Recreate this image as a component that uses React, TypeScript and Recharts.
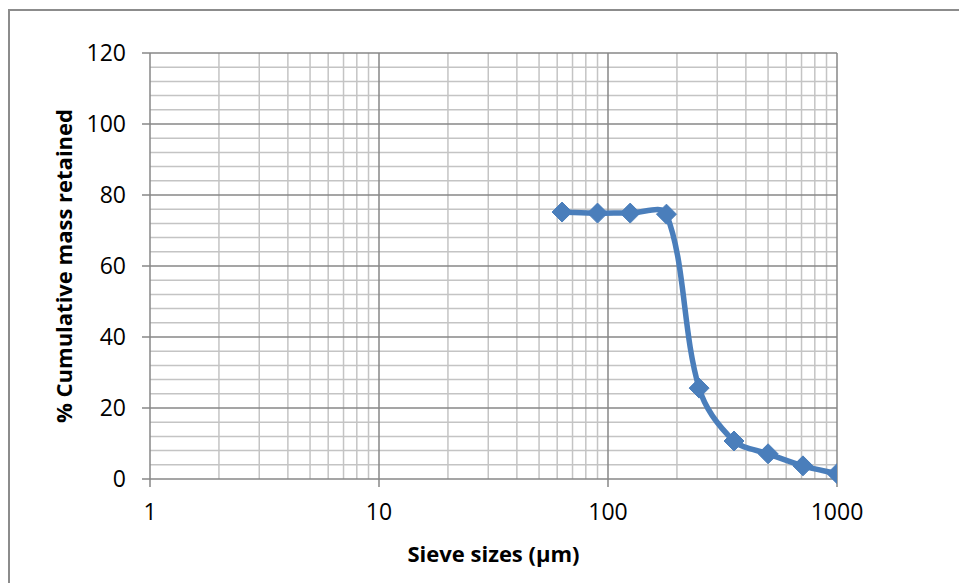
import React from 'react';
import { LineChart, Line, XAxis, YAxis, ReferenceLine } from 'recharts';

const sieveSizes = [63, 90, 125, 180, 250, 355, 500, 710, 1000];
const cumulativeRetained = [75.2, 74.9, 74.9, 74.6, 25.6, 10.7, 7.1, 3.7, 1.5];

const xTicks = [1, 10, 100, 1000];
const xMinor = [2, 3, 4, 5, 6, 7, 8, 9, 20, 30, 40, 50, 60, 70, 80, 90, 200, 300, 400, 500, 600, 700, 800, 900];
const yTicks = [0, 20, 40, 60, 80, 100, 120];
const yMinor = [4, 8, 12, 16, 24, 28, 32, 36, 44, 48, 52, 56, 64, 68, 72, 76, 84, 88, 92, 96, 104, 108, 112, 116];

const data = sieveSizes.map((s, i) => ({ size: s, retained: cumulativeRetained[i] }));

const FONT = '"Open Sans", sans-serif';
const BLUE = '#4a7ebb';
const MINOR = '#c4c4c4';
const MAJOR = '#878787';

// Excel-like smoothed line: Bezier with tangents scaled by neighbouring segment lengths
const excelCurve = (context: any) => {
  let pts: number[][] = [];
  return {
    areaStart() {},
    areaEnd() {},
    lineStart() { pts = []; },
    point(x: number, y: number) { pts.push([+x, +y]); },
    lineEnd() {
      const n = pts.length;
      if (!n) return;
      context.moveTo(pts[0][0], pts[0][1]);
      const d = (a: number[], b: number[]) => Math.hypot(b[0] - a[0], b[1] - a[1]);
      for (let i = 0; i < n - 1; i++) {
        const p0 = pts[Math.max(i - 1, 0)];
        const p1 = pts[i];
        const p2 = pts[i + 1];
        const p3 = pts[Math.min(i + 2, n - 1)];
        const d01 = d(p0, p1), d12 = d(p1, p2), d23 = d(p2, p3);
        const f1 = d01 + d12 > 0 ? d12 / (d01 + d12) / 3 : 0;
        const f2 = d12 + d23 > 0 ? d12 / (d12 + d23) / 3 : 0;
        const c1x = p1[0] + (p2[0] - p0[0]) * f1;
        const c1y = p1[1] + (p2[1] - p0[1]) * f1;
        const c2x = p2[0] - (p3[0] - p1[0]) * f2;
        const c2y = p2[1] - (p3[1] - p1[1]) * f2;
        context.bezierCurveTo(c1x, c1y, c2x, c2y, p2[0], p2[1]);
      }
    },
  };
};

const Diamond = (props: any) => {
  const { cx, cy } = props;
  if (cx == null || cy == null) return null;
  const r = 10;
  return (
    <polygon
      points={`${cx},${cy - r} ${cx + r},${cy} ${cx},${cy + r} ${cx - r},${cy}`}
      fill={BLUE}
      stroke={BLUE}
      strokeWidth={1}
    />
  );
};

const YTitle = (props: any) => {
  const { viewBox } = props;
  const cx = viewBox.x + 43;
  const cy = viewBox.y + viewBox.height / 2;
  return (
    <text
      x={cx}
      y={cy}
      transform={`rotate(-90 ${cx} ${cy})`}
      textAnchor="middle"
      dominantBaseline="central"
      fontFamily={FONT}
      fontWeight={700}
      fontSize={22}
      fill="#000"
    >
      % Cumulative mass retained
    </text>
  );
};

const XTitle = (props: any) => {
  const { viewBox } = props;
  const cx = viewBox.x + viewBox.width / 2;
  const cy = viewBox.y + 83;
  return (
    <text x={cx} y={cy} textAnchor="middle" fontFamily={FONT} fontWeight={700} fontSize={22} fill="#000">
      Sieve sizes (µm)
    </text>
  );
};

export default function App() {
  return (
    <div style={{ position: 'absolute', left: 0, top: 0, width: 959, height: 583, overflow: 'hidden', background: '#fff' }}>
      <div
        style={{
          position: 'absolute',
          left: 8,
          top: 9,
          width: 1000,
          height: 1000,
          borderLeft: '2px solid #8c8c8c',
          borderTop: '2px solid #8c8c8c',
        }}
      />
      <div style={{ position: 'absolute', left: 0, top: 0 }}>
        <LineChart width={959} height={583} data={data} margin={{ top: 53, right: 122, left: 20, bottom: 14 }}>
          {xMinor.map((v) => (
            <ReferenceLine key={`xm${v}`} x={v} stroke={MINOR} strokeWidth={1.5} ifOverflow="hidden" />
          ))}
          {yMinor.map((v) => (
            <ReferenceLine key={`ym${v}`} y={v} stroke={MINOR} strokeWidth={1.5} ifOverflow="hidden" />
          ))}
          {xTicks.map((v) => (
            <ReferenceLine key={`xM${v}`} x={v} stroke={MAJOR} strokeWidth={1.5} />
          ))}
          {yTicks.map((v) => (
            <ReferenceLine key={`yM${v}`} y={v} stroke={MAJOR} strokeWidth={1.5} />
          ))}
          <XAxis
            dataKey="size"
            type="number"
            scale="log"
            domain={[1, 1000]}
            ticks={xTicks}
            allowDataOverflow
            height={90}
            axisLine={false}
            tickLine={{ stroke: MAJOR, strokeWidth: 1.5 }}
            tickSize={8}
            tickMargin={17}
            tick={{ fill: '#000', fontSize: 23, fontFamily: FONT }}
            interval={0}
            label={<XTitle />}
          />
          <YAxis
            type="number"
            domain={[0, 120]}
            ticks={yTicks}
            width={130}
            axisLine={false}
            tickLine={{ stroke: MAJOR, strokeWidth: 1.5 }}
            tickSize={8}
            tickMargin={16}
            tick={{ fill: '#000', fontSize: 23, fontFamily: FONT }}
            interval={0}
            label={<YTitle />}
          />
          <Line
            dataKey="retained"
            type={excelCurve as any}
            stroke={BLUE}
            strokeWidth={5.5}
            dot={<Diamond />}
            activeDot={false}
            isAnimationActive={false}
          />
        </LineChart>
      </div>
    </div>
  );
}
